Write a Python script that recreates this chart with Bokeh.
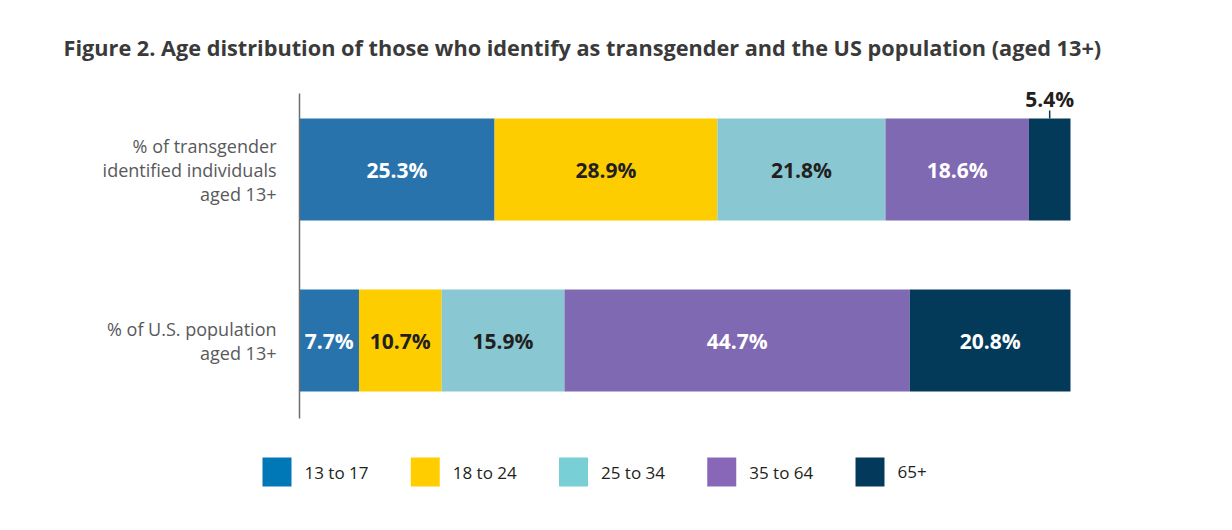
from bokeh.plotting import figure
from bokeh.models import ColumnDataSource, Range1d
from bokeh.embed import file_html
from bokeh.resources import INLINE
from bokeh.core.properties import value

# ---- data ----
groups = ["13 to 17", "18 to 24", "25 to 34", "35 to 64", "65+"]
categories = ["% of transgender\nidentified individuals\naged 13+",
              "% of U.S. population\naged 13+"]
transgender = [25.3, 28.9, 21.8, 18.6, 5.4]
us_population = [7.7, 10.7, 15.9, 44.7, 20.8]

bar_colors = ["#2973ac", "#fecd00", "#89c7d2", "#7f69b2", "#033a5a"]
legend_colors = ["#0077b6", "#ffcd00", "#78cfd6", "#8866b8", "#033a5c"]
label_dark = [False, True, True, False, False]

title_text = ("Figure 2. Age distribution of those who identify as transgender "
              "and the US population (aged 13+)")

FONT = "Open Sans"

# ---- canvas / scales (the plotting frame covers the whole canvas) ----
W, H = 1224, 522
PX_PER_PCT = 7.71          # 100 % -> 771 px
PX_PER_ROW = 171.0
AXIS_LEFT_PX = 299
ROW0_PX = 340              # pixel centre of the bottom row
xs = -AXIS_LEFT_PX / PX_PER_PCT
ys0 = -(H - ROW0_PX) / PX_PER_ROW


def X(px):
    return xs + px / PX_PER_PCT


def Y(py):
    return ys0 + (H - py) / PX_PER_ROW


p = figure(width=W, height=H, output_backend="svg", toolbar_location=None,
           x_range=Range1d(xs, xs + W / PX_PER_PCT),
           y_range=Range1d(ys0, ys0 + H / PX_PER_ROW),
           x_axis_location=None, y_axis_location=None, min_border=0)
p.outline_line_color = None
p.grid.visible = False
p.background_fill_color = "white"

ys = [1, 0]
series = [transgender, us_population]

data = {"y": ys}
for gi, g in enumerate(groups):
    data[g] = [s[gi] / sum(s) * 100 for s in series]
src = ColumnDataSource(data)
bar_h = 0.596
p.hbar_stack(groups, y="y", height=bar_h, color=bar_colors, line_color=None, source=src)

# vertical axis line
p.segment(x0=[0], y0=[Y(418)], x1=[0], y1=[Y(93)], line_color="#6d6d6d", line_width=1.5)

# category labels
p.text(x=[0, 0], y=ys, text=categories, x_offset=-23, text_align="right",
       text_baseline="middle", text_font=value(FONT), text_font_size="18px",
       text_color="#58595b", text_line_height=1.0)

# segment labels
lx, ly, lt, lc = [], [], [], []
outside = None
for s, yv in zip(series, ys):
    tot = sum(s)
    cum = 0.0
    for gi, v in enumerate(s):
        w = v / tot * 100
        center = cum + w / 2
        cum += w
        if v < 6:
            outside = (center, yv, v)
            continue
        lx.append(center)
        ly.append(yv)
        lt.append(f"{v:.1f}%")
        lc.append("#231f20" if label_dark[gi] else "#ffffff")
lab_src = ColumnDataSource(dict(x=lx, y=ly, t=lt, c=lc))
p.text(x="x", y="y", text="t", source=lab_src, text_color="c",
       text_align="center", text_baseline="middle",
       text_font=value(FONT), text_font_style="bold", text_font_size="21px")

if outside is not None:
    cx, cy, v = outside
    top = cy + bar_h / 2
    tick = 8 / PX_PER_ROW
    p.segment(x0=[cx], y0=[top], x1=[cx], y1=[top + tick], line_color="#033a5a",
              line_width=1.5)
    p.text(x=[cx], y=[top + tick], text=[f"{v:.1f}%"], y_offset=-12,
           text_align="center", text_baseline="middle",
           text_font=value(FONT), text_font_style="bold", text_font_size="21px",
           text_color="#231f20")

# title
p.text(x=[X(63)], y=[Y(47)], text=[title_text], text_align="left",
       text_baseline="middle", text_font=value(FONT), text_font_style="bold",
       text_font_size="21.7px", text_color="#3a3a3a")

# legend
leg_x = [X(276.5 + 148.25 * i) for i in range(len(groups))]
leg_y = [Y(471.5)] * len(groups)
p.rect(x=leg_x, y=leg_y, width=29, height=29, width_units="screen",
       height_units="screen", color=legend_colors, line_color=None)
p.text(x=leg_x, y=leg_y, text=groups, x_offset=27.5, text_baseline="middle",
       text_font=value(FONT), text_font_size="17px", text_color="#231f20")

open("out.html", "w").write(file_html(p, INLINE))
